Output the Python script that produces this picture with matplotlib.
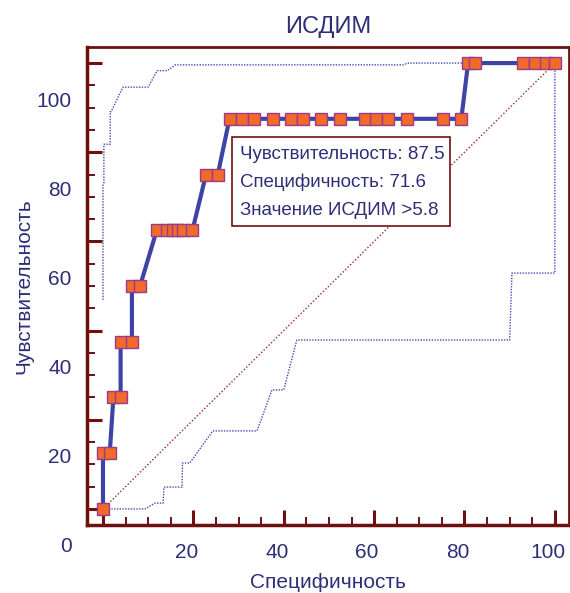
import numpy as np
import matplotlib
matplotlib.use('Agg')
import matplotlib.pyplot as plt
import matplotlib.patches as patches
from matplotlib.transforms import ScaledTranslation

plt.rcParams['font.family'] = ['Liberation Sans', 'DejaVu Sans']

# ROC curve (100 - specificity, sensitivity)
roc_x = [0, 0, 1.5, 2.3, 3.9, 3.9, 6.4, 6.4, 8.2,
         11.9, 14.1, 15.4, 16.7, 17.8, 19.8, 22.8, 25.4,
         28.0, 30.8, 33.4, 37.6, 41.5, 44.3, 48.2, 52.4, 58.0, 60.5, 63.1, 67.2, 75.3, 79.3,
         80.8, 82.3, 93.0, 95.6, 98.1, 100]
roc_y = [0, 12.5, 12.5, 25, 25, 37.5, 37.5, 50, 50,
         62.5, 62.5, 62.5, 62.5, 62.5, 62.5, 75, 75,
         87.5, 87.5, 87.5, 87.5, 87.5, 87.5, 87.5, 87.5, 87.5, 87.5, 87.5, 87.5, 87.5, 87.5,
         100, 100, 100, 100, 100, 100]

# confidence bounds
upper_x = [0, 0, 0.2, 0.2, 1.6, 1.6, 1.8, 4.4, 10.0, 12.0, 14.2, 16.0, 66.4, 67.5, 80.8]
upper_y = [46.9, 72.6, 73.1, 81.8, 81.8, 89.1, 89.1, 94.6, 94.6, 98.3, 98.3, 99.6, 99.6, 100, 100]
lower_x = [0, 9.3, 11.5, 13.3, 13.5, 17.5, 17.6, 19.2, 24.3, 34.1, 37.4, 40.0, 42.9, 90.0, 90.5, 100, 100]
lower_y = [0, 0, 1.3, 1.3, 4.9, 4.9, 10.3, 10.3, 17.5, 17.5, 26.7, 26.7, 37.9, 37.9, 52.9, 52.9, 99.6]

diag = [0, 100]
ticks = [0, 20, 40, 60, 80, 100]
xtick_labels = ['', '20', '40', '60', '80', '100']
ytick_labels = ['0', '20', '40', '60', '80', '100']

info = ['Чувствительность: 87.5', 'Специфичность: 71.6', 'Значение ИСДИМ >5.8']

maroon = '#6e1010'
navy = '#2e2e78'

fig = plt.figure(figsize=(5.70, 5.93), dpi=100)
ax = fig.add_axes([0.1526, 0.1147, 0.8454, 0.806])

ax.plot(diag, diag, color='#9a2a2a', lw=1, linestyle=(0, (1, 1.5)))
ax.plot(upper_x, upper_y, color='#4848b8', lw=1, linestyle=(0, (1, 1)))
ax.plot(lower_x, lower_y, color='#4848b8', lw=1, linestyle=(0, (1, 1)))
ax.plot(roc_x, roc_y, color='#3e44a4', lw=3, marker='s', markersize=8,
        markerfacecolor='#f26a2a', markeredgecolor='#9a3c8c', markeredgewidth=1)

ax.set_xlim(-3.54, 103.1)
ax.set_ylim(-3.6, 103.6)

ax.set_xticks(ticks)
ax.set_xticklabels(xtick_labels)
ax.set_yticks(ticks)
ax.set_yticklabels(ytick_labels)
ax.set_xticks(np.arange(0, 101, 5), minor=True)
ax.set_yticks(np.arange(0, 101, 5), minor=True)
ax.tick_params(which='major', direction='in', length=11, width=2.2, color=maroon,
               labelcolor=navy, labelsize=15)
ax.tick_params(which='minor', direction='in', length=6, width=1.4, color=maroon)
ax.tick_params(axis='x', which='major', pad=13)
ax.tick_params(axis='y', which='major', pad=11)

for s in ['left', 'bottom']:
    ax.spines[s].set_linewidth(2.5)
    ax.spines[s].set_color(maroon)
for s in ['top', 'right']:
    ax.spines[s].set_linewidth(2)
    ax.spines[s].set_color(maroon)

ax.set_title('ИСДИМ', color=navy, fontsize=17, pad=10)
ax.set_xlabel('Специфичность', color=navy, fontsize=15, labelpad=8)
ax.set_ylabel('Чувствительность', color=navy, fontsize=15, labelpad=2)

# info box
ax.add_patch(patches.Rectangle((0.301, 0.6255), 0.452, 0.1865, transform=ax.transAxes,
                               facecolor='white', edgecolor=maroon, lw=1.2, zorder=3))
for i, line in enumerate(info):
    ax.text(0.318, 0.775 - i * 0.0585, line, transform=ax.transAxes, color=navy,
            fontsize=13.5, va='center', ha='left', zorder=4)

fig.canvas.draw()
for lab in ax.get_yticklabels():
    lab.set_transform(lab.get_transform() + ScaledTranslation(0, -0.36, fig.dpi_scale_trans))
for lab in ax.get_xticklabels():
    lab.set_transform(lab.get_transform() + ScaledTranslation(-0.07, 0, fig.dpi_scale_trans))

fig.savefig('out.png', dpi=100)
